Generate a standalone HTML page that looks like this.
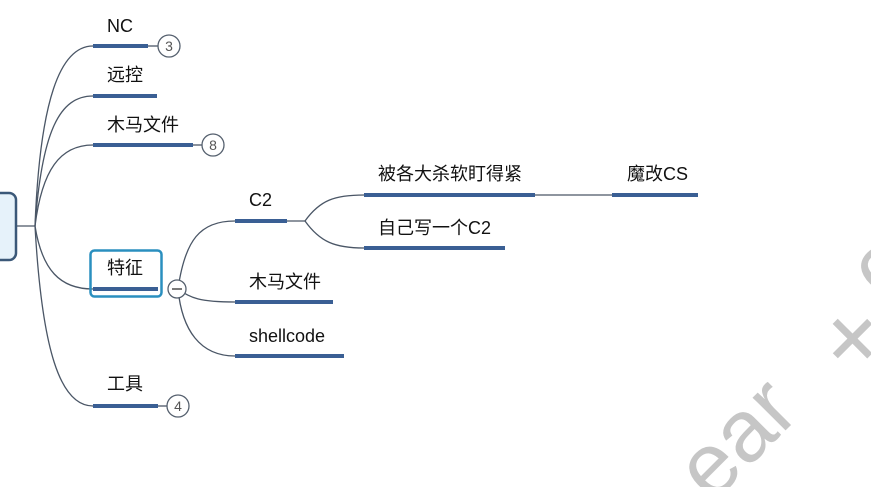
<!DOCTYPE html>
<html><head><meta charset="utf-8"><style>
html,body{margin:0;padding:0;background:#fff;width:871px;height:487px;overflow:hidden}
svg{display:block}
text{font-family:"Liberation Sans","Noto Sans CJK SC",sans-serif;font-size:18px;fill:#111}
</style></head><body>
<svg width="871" height="487" viewBox="0 0 871 487" xmlns="http://www.w3.org/2000/svg">
<defs><clipPath id="c"><rect x="0" y="0" width="871" height="487"/></clipPath></defs>
<g clip-path="url(#c)">
<text x="0" y="0" transform="translate(712 504) rotate(-45)" style="font-size:88px;fill:#c6c6c6">ear</text>
<text x="0" y="0" transform="translate(852 338) rotate(-45)" text-anchor="middle" dominant-baseline="central" style="font-size:100px;fill:#c6c6c6">+</text>
<text x="0" y="0" transform="translate(884 303) rotate(-45)" style="font-size:88px;fill:#c6c6c6">c</text>
<g fill="none" stroke="#4a5666" stroke-width="1.3">
<path d="M16 226 H35"/>
<path d="M35 226 C40 100 60 46 93 46"/>
<path d="M35 226 C42 130 60 96 93 96"/>
<path d="M35 226 C42 170 60 145 93 145"/>
<path d="M35 226 C42 270 60 289 93 289"/>
<path d="M35 226 C42 350 60 406 93 406"/>
<path d="M178 289 C185 240 200 221 235 221"/>
<path d="M178 289 C190 298 200 302 235 302"/>
<path d="M178 289 C182 330 200 356 235 356"/>
<path d="M287 221 H305"/>
<path d="M305 221 C320 200 335 195 364 195"/>
<path d="M305 221 C320 242 335 248 364 248"/>
<path d="M535 195 H612"/>
<path d="M148 46 H158"/><path d="M193 145 H202"/><path d="M158 406 H168"/>
</g>
<rect x="-20" y="193" width="36" height="67" rx="7" fill="#e6f2fa" stroke="#3b5878" stroke-width="2.5"/>
<rect x="90.5" y="250.5" width="71" height="46" rx="4" fill="none" stroke="#2a8fbf" stroke-width="2.5"/>
<g stroke="#3a5f94" stroke-width="4">
<path d="M93 46H148M93 96H157M93 145H193M93 289H158M93 406H158M235 221H287M364 195H535M612 195H698M364 248H505M235 302H333M235 356H344"/>
</g>
<g fill="#fff" stroke="#55606e" stroke-width="1.3">
<circle cx="169" cy="46" r="11"/><circle cx="213" cy="145" r="11"/><circle cx="178" cy="406" r="11"/><circle cx="177" cy="289" r="9"/>
</g>
<path d="M172 289H182" stroke="#333" stroke-width="1.3"/>
<g text-anchor="middle">
<text x="169" y="51" style="font-size:14px;fill:#555">3</text>
<text x="213" y="150" style="font-size:14px;fill:#555">8</text>
<text x="178" y="411" style="font-size:14px;fill:#555">4</text>
</g>
<text x="107" y="32">NC</text>
<text x="107" y="81">远控</text>
<text x="107" y="131">木马文件</text>
<text x="107" y="274">特征</text>
<text x="107" y="390">工具</text>
<text x="249" y="206">C2</text>
<text x="378" y="180">被各大杀软盯得紧</text>
<text x="627" y="180">魔改CS</text>
<text x="378" y="234">自己写一个C2</text>
<text x="249" y="288">木马文件</text>
<text x="249" y="342">shellcode</text>
</g>
</svg>
</body></html>
